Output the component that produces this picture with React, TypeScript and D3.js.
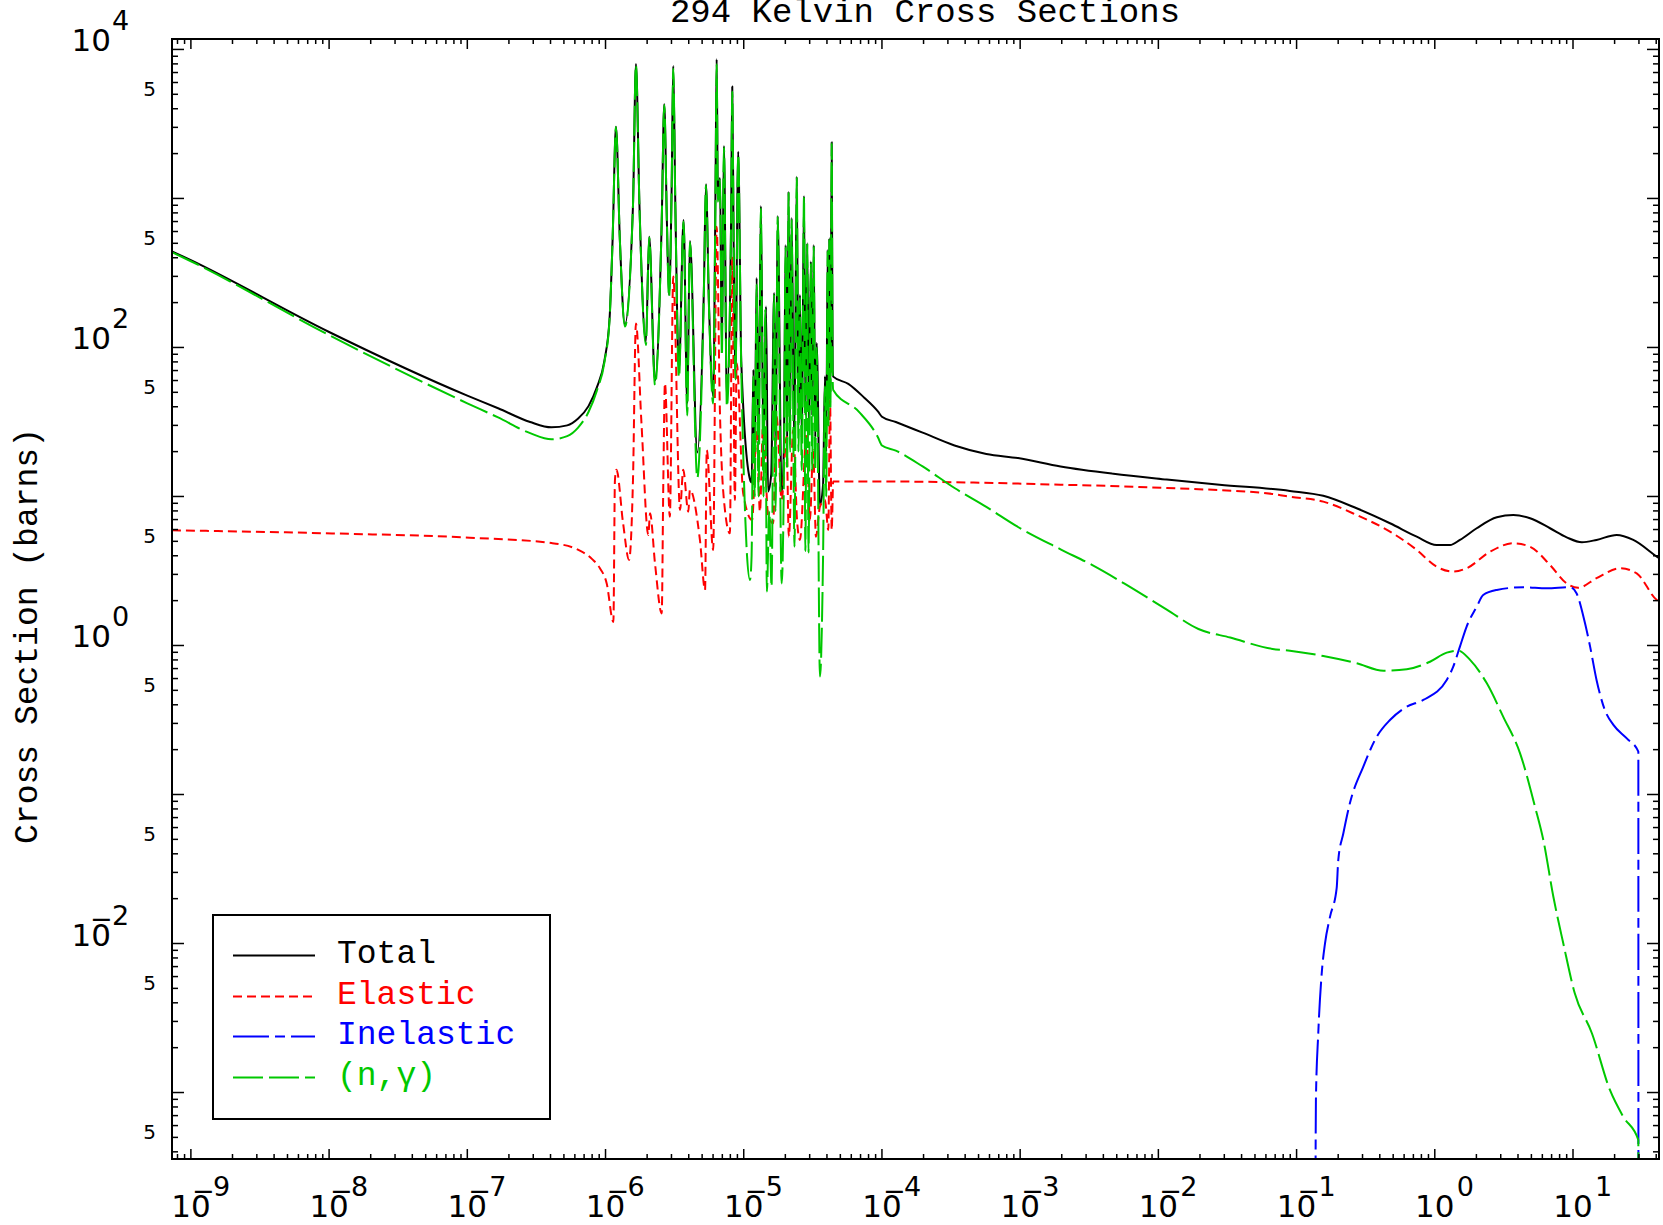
import { useEffect, useRef } from "react";
import * as d3 from "d3";

type Pt = [number, number];

const chartTitle = "294 Kelvin Cross Sections";
const yAxisTitle = "Cross Section (barns)";

// axis limits (energy, cross section)
const energyRange: Pt = [7.3e-10, 41.9];
const sigmaRange: Pt = [3.58e-4, 1.175e4];

const xDecadeLabels = [-9, -8, -7, -6, -5, -4, -3, -2, -1, 0, 1];
const yDecadeLabels = [4, 2, 0, -2];
const yFiveLabels = [5e3, 5e2, 5e1, 5, 5e-1, 5e-2, 5e-3, 5e-4];

const legendNames = ["Total", "Elastic", "Inelastic", "(n,\u03b3)"];

const totalXS: Pt[] = [
  [7.29e-10, 442], [1.0e-9, 385], [1.0e-8, 127], [1.0e-7, 47.5], [1.67e-7, 39.1],
  [2.85e-7, 31.6], [4.06e-7, 29.1], [5.28e-7, 30.0], [6.31e-7, 33.2], [7.53e-7, 40.4],
  [8.67e-7, 54.2], [9.82e-7, 81.7], [1.07e-6, 157], [1.125e-6, 527], [1.19e-6, 3030],
  [1.27e-6, 527], [1.38e-6, 143], [1.58e-6, 900], [1.66e-6, 8000], [1.76e-6, 900],
  [1.96e-6, 109], [2.07e-6, 554], [2.28e-6, 60], [2.55e-6, 700], [2.66e-6, 4290],
  [2.78e-6, 700], [2.88e-6, 225], [3.01e-6, 1200], [3.09e-6, 7750], [3.2e-6, 900],
  [3.4e-6, 71], [3.67e-6, 717], [3.9e-6, 42], [4.08e-6, 519], [4.61e-6, 19.7],
  [5.15e-6, 250], [5.33e-6, 1245], [5.6e-6, 200], [6.01e-6, 47], [6.25e-6, 1200],
  [6.37e-6, 8600], [6.5e-6, 1000], [6.73e-6, 1370], [6.95e-6, 96], [7.19e-6, 2250],
  [7.55e-6, 46.5], [8.1e-6, 700], [8.26e-6, 5630], [8.45e-6, 500], [8.71e-6, 70],
  [9.12e-6, 2060], [9.6e-6, 80], [1.11e-5, 13], [1.14e-5, 12.4], [1.175e-5, 71],
  [1.2e-5, 18], [1.24e-5, 293], [1.28e-5, 22], [1.33e-5, 891], [1.39e-5, 20],
  [1.45e-5, 188], [1.5e-5, 10.8], [1.58e-5, 14], [1.66e-5, 232], [1.7e-5, 18],
  [1.76e-5, 763], [1.88e-5, 10.5], [1.95e-5, 20], [2.01e-5, 487], [2.06e-5, 25],
  [2.11e-5, 1110], [2.16e-5, 30], [2.22e-5, 740], [2.32e-5, 22], [2.42e-5, 1400],
  [2.49e-5, 30], [2.55e-5, 225], [2.63e-5, 25], [2.73e-5, 1040], [2.8e-5, 35],
  [2.88e-5, 500], [2.97e-5, 28], [3.06e-5, 377], [3.13e-5, 35], [3.21e-5, 487],
  [3.29e-5, 25], [3.37e-5, 107], [3.56e-5, 8.8], [3.75e-5, 12], [3.87e-5, 64],
  [3.95e-5, 20], [4.05e-5, 451], [4.1e-5, 40], [4.16e-5, 541], [4.24e-5, 50],
  [4.33e-5, 2380], [4.4e-5, 70], [4.44e-5, 63.7], [5.71e-5, 57.0], [7.45e-5, 46.0],
  [9.35e-5, 37.2], [1.0e-4, 34.3], [1.26e-4, 31.6], [1.97e-4, 26.8], [3.35e-4, 22.0],
  [5.69e-4, 19.3], [9.65e-4, 18.1], [1.96e-3, 15.9], [4.73e-3, 14.2], [1.15e-2, 13.0],
  [2.77e-2, 12.0], [8.95e-2, 10.9], [0.156, 10.1], [0.272, 8.33], [0.474, 6.61],
  [0.74, 5.37], [1.03, 4.72], [1.29, 4.72], [1.52, 5.11], [2.01, 6.12],
  [2.81, 7.25], [3.7, 7.51], [4.89, 7.14], [6.82, 6.12], [9.0, 5.32],
  [11.6, 4.93], [14.8, 5.11], [20.7, 5.52], [27.3, 5.11], [40.4, 3.95], [43, 3.8],
];

const elasticXS: Pt[] = [
  [7.29e-10, 5.93], [1.05e-8, 5.65], [1.04e-7, 5.29], [4.06e-7, 4.87], [6.31e-7, 4.4],
  [8.0e-7, 3.8], [9.11e-7, 3.3], [1.02e-6, 2.61], [1.14e-6, 1.44], [1.17e-6, 12.9],
  [1.2e-6, 15.1], [1.34e-6, 6.61], [1.48e-6, 3.75], [1.58e-6, 12.9], [1.66e-6, 145],
  [1.82e-6, 31.0], [2.04e-6, 5.52], [2.1e-6, 7.71], [2.28e-6, 3.56], [2.55e-6, 1.64],
  [2.62e-6, 12.9], [2.69e-6, 57.5], [2.92e-6, 7.32], [3.09e-6, 299], [3.46e-6, 8.12],
  [3.65e-6, 15.1], [3.97e-6, 7.91], [4.08e-6, 11.1], [4.82e-6, 5.11], [5.25e-6, 2.36],
  [5.4e-6, 20.5], [6.01e-6, 4.38], [6.37e-6, 647], [6.73e-6, 36.2], [7.31e-6, 8.12],
  [7.94e-6, 5.66], [8.26e-6, 407], [8.63e-6, 9.48], [8.89e-6, 78.3], [9.91e-6, 10.5],
  [1.15e-5, 6.95], [1.24e-5, 27.9], [1.31e-5, 7.9], [1.38e-5, 31.0], [1.5e-5, 7.52],
  [1.63e-5, 6.61], [1.73e-5, 34.3], [1.88e-5, 9.48], [2.04e-5, 25.2], [2.12e-5, 5.37],
  [2.28e-5, 27.9], [2.43e-5, 6.95], [2.55e-5, 5.11], [2.85e-5, 26.6], [3.01e-5, 6.95],
  [3.18e-5, 20.5], [3.33e-5, 5.37], [3.56e-5, 8.55], [3.87e-5, 9.48], [4.09e-5, 5.96],
  [4.21e-5, 44.4], [4.33e-5, 5.96], [4.44e-5, 12.6], [1.0e-4, 12.6], [1.96e-3, 12.0],
  [1.15e-2, 11.4], [6.7e-2, 10.4], [8.95e-2, 9.97], [0.156, 9.23], [0.272, 7.51],
  [0.474, 5.81], [0.74, 4.38], [1.03, 3.38], [1.36, 3.13], [1.7, 3.3],
  [2.51, 4.26], [3.7, 4.85], [4.89, 4.6], [6.82, 3.47], [9.0, 2.61],
  [10.9, 2.44], [14.8, 2.83], [21.9, 3.3], [28.9, 3.05], [40.4, 2.02], [43, 1.95],
];

const inelasticXS: Pt[] = [
  [0.1355, 1e-6], [0.138, 8.9e-4], [0.1435, 2.49e-3], [0.152, 6.31e-3], [0.1605, 0.01],
  [0.1745, 0.0151], [0.195, 0.0235], [0.2003, 0.0363], [0.218, 0.0549], [0.243, 0.0873],
  [0.304, 0.154], [0.38, 0.244], [0.474, 0.316], [0.626, 0.388], [0.826, 0.431],
  [1.22, 0.587], [1.36, 0.721], [1.52, 0.982], [1.7, 1.34], [2.01, 1.82],
  [2.24, 2.18], [2.81, 2.36], [4.37, 2.46], [6.45, 2.42], [9.51, 2.46],
  [10.6, 2.24], [11.9, 1.56], [13.3, 0.982], [14.8, 0.587], [17.0, 0.369],
  [19.6, 0.293], [24.5, 0.238], [29.7, 0.194], [29.75, 1e-6],
];

const captureXS: Pt[] = [
  [7.29e-10, 436], [1.0e-9, 379], [1.0e-8, 121], [1.0e-7, 42.2], [1.67e-7, 33.9],
  [2.85e-7, 26.6], [4.06e-7, 24.2], [5.28e-7, 25.4], [6.31e-7, 28.9], [7.53e-7, 36.9],
  [8.67e-7, 51.5], [9.82e-7, 79.6], [1.07e-6, 155], [1.125e-6, 525], [1.19e-6, 3015],
  [1.27e-6, 520], [1.38e-6, 138], [1.58e-6, 890], [1.66e-6, 7850], [1.76e-6, 880],
  [1.96e-6, 104], [2.07e-6, 547], [2.28e-6, 56], [2.55e-6, 690], [2.66e-6, 4230],
  [2.78e-6, 690], [2.88e-6, 218], [3.01e-6, 1180], [3.09e-6, 7450], [3.2e-6, 880],
  [3.4e-6, 63], [3.67e-6, 700], [3.9e-6, 35], [4.08e-6, 508], [4.61e-6, 13.3],
  [5.15e-6, 240], [5.33e-6, 1225], [5.6e-6, 190], [6.01e-6, 42], [6.25e-6, 1150],
  [6.37e-6, 7950], [6.5e-6, 950], [6.73e-6, 1330], [6.95e-6, 88], [7.19e-6, 2200],
  [7.55e-6, 40], [8.1e-6, 680], [8.26e-6, 5220], [8.45e-6, 480], [8.71e-6, 61],
  [9.12e-6, 1980], [9.6e-6, 70], [1.11e-5, 2.75], [1.14e-5, 4], [1.175e-5, 64],
  [1.2e-5, 10], [1.24e-5, 265], [1.28e-5, 10], [1.33e-5, 860], [1.39e-5, 10],
  [1.43e-5, 180], [1.47e-5, 2.3], [1.53e-5, 8], [1.59e-5, 2.48], [1.66e-5, 225],
  [1.7e-5, 8], [1.76e-5, 750], [1.88e-5, 2.61], [1.95e-5, 12], [2.01e-5, 470],
  [2.06e-5, 15], [2.11e-5, 1090], [2.16e-5, 20], [2.22e-5, 720], [2.33e-5, 4.6],
  [2.42e-5, 1380], [2.49e-5, 20], [2.55e-5, 215], [2.63e-5, 15], [2.73e-5, 1020],
  [2.79e-5, 4.3], [2.88e-5, 490], [2.94e-5, 4.2], [3.06e-5, 365], [3.13e-5, 15],
  [3.21e-5, 475], [3.29e-5, 15], [3.37e-5, 100], [3.56e-5, 0.62], [3.75e-5, 4],
  [3.87e-5, 55], [3.95e-5, 10], [4.05e-5, 440], [4.1e-5, 30], [4.16e-5, 530],
  [4.24e-5, 40], [4.33e-5, 2350], [4.4e-5, 60], [4.44e-5, 51.9], [6.82e-5, 37],
  [9.35e-5, 25], [1.0e-4, 22], [1.26e-4, 20.3], [1.97e-4, 15.9], [3.35e-4, 11.4],
  [5.69e-4, 8.51], [9.65e-4, 6.24], [1.96e-3, 4.42], [3.33e-3, 3.46], [5.65e-3, 2.61],
  [1.15e-2, 1.74], [1.95e-2, 1.29], [3.31e-2, 1.13], [6.7e-2, 0.948], [8.95e-2, 0.923],
  [0.156, 0.85], [0.272, 0.76], [0.426, 0.677], [0.627, 0.692], [0.923, 0.778],
  [1.22, 0.895], [1.48, 0.923], [1.8, 0.8], [2.38, 0.557], [3.13, 0.332],
  [4.14, 0.189], [5.31, 0.0828], [6.1, 0.0495], [7.21, 0.0206], [8.51, 0.01],
  [10.3, 4.63e-3], [13.7, 2.5e-3], [18.5, 1.04e-3], [23.1, 6.88e-4], [29.7, 4.8e-4],
  [29.75, 1e-6],
];

export default function App() {
  const svgRef = useRef<SVGSVGElement>(null);
  const width = 1663;
  const height = 1225;

  useEffect(() => {
    if (!svgRef.current) return;
    const svg = d3.select(svgRef.current);
    svg.selectAll("*").remove();

    const left = 172, right = 1659, top = 39, bottom = 1159;
    const x = d3.scaleLog().domain(energyRange).range([left, right]);
    const y = d3.scaleLog().domain(sigmaRange).range([bottom, top]);

    const tickFont = "'DejaVu Sans', sans-serif";
    const monoFont = "'Liberation Mono', monospace";

    svg.append("rect").attr("width", width).attr("height", height).attr("fill", "#fff");

    svg.append("defs").append("clipPath").attr("id", "plotArea")
      .append("rect").attr("x", left).attr("y", top)
      .attr("width", right - left).attr("height", bottom - top);

    const line = d3.line<Pt>()
      .x(d => x(d[0]))
      .y(d => y(d[1]))
      .curve(d3.curveMonotoneX);

    const curves = [
      { data: totalXS, color: "#000000", dash: "none" },
      { data: elasticXS, color: "#ff0000", dash: "9,5" },
      { data: inelasticXS, color: "#0000ff", dash: "36,6,10,6" },
      { data: captureXS, color: "#00c800", dash: "30,6" },
    ];

    const g = svg.append("g").attr("clip-path", "url(#plotArea)");
    curves.forEach(c => {
      g.append("path")
        .attr("d", line(c.data))
        .attr("fill", "none")
        .attr("stroke", c.color)
        .attr("stroke-width", 2)
        .attr("stroke-dasharray", c.dash)
        .attr("stroke-linejoin", "round");
    });

    // frame + ticks on all four sides
    svg.append("rect").attr("x", left).attr("y", top)
      .attr("width", right - left).attr("height", bottom - top)
      .attr("fill", "none").attr("stroke", "#000").attr("stroke-width", 2);

    const isMajor = (v: number) => Math.abs(Math.log10(v) - Math.round(Math.log10(v))) < 1e-6;
    const tk = svg.append("g").attr("stroke", "#000").attr("stroke-width", 1.5);

    x.ticks(100).forEach(t => {
      const px = x(t);
      if (px < left || px > right) return;
      const len = isMajor(t) ? 10 : 5;
      tk.append("line").attr("x1", px).attr("x2", px).attr("y1", bottom).attr("y2", bottom - len);
      tk.append("line").attr("x1", px).attr("x2", px).attr("y1", top).attr("y2", top + len);
    });
    y.ticks(100).forEach(t => {
      const py = y(t);
      if (py < top || py > bottom) return;
      const len = isMajor(t) ? 12 : 6;
      tk.append("line").attr("y1", py).attr("y2", py).attr("x1", left).attr("x2", left + len);
      tk.append("line").attr("y1", py).attr("y2", py).attr("x1", right).attr("x2", right - len);
    });

    // x labels: 10 with superscript exponent (minus sits over the 0, as in the original)
    xDecadeLabels.forEach(e => {
      const px = x(Math.pow(10, e));
      const lab = svg.append("g").attr("font-family", tickFont).attr("fill", "#000");
      lab.append("text").attr("x", px).attr("y", 1217).attr("text-anchor", "middle")
        .attr("font-size", 31).text("10");
      if (e < 0) {
        lab.append("text").attr("x", px + 1).attr("y", 1200).attr("font-size", 27).text("\u2212");
      }
      lab.append("text").attr("x", px + 22).attr("y", 1196).attr("font-size", 27)
        .text(String(Math.abs(e)));
    });

    // y labels
    yDecadeLabels.forEach(e => {
      const py = y(Math.pow(10, e));
      const lab = svg.append("g").attr("font-family", tickFont).attr("fill", "#000");
      lab.append("text").attr("x", 111).attr("y", py + 2).attr("text-anchor", "end")
        .attr("font-size", 31).text("10");
      if (e < 0) {
        lab.append("text").attr("x", 90).attr("y", py - 16).attr("font-size", 27).text("\u2212");
      }
      lab.append("text").attr("x", 112).attr("y", py - 19).attr("font-size", 27)
        .text(String(Math.abs(e)));
    });
    yFiveLabels.forEach(v => {
      svg.append("text").attr("x", 156).attr("y", y(v) + 2).attr("text-anchor", "end")
        .attr("font-family", tickFont).attr("font-size", 20).text("5");
    });

    // titles
    svg.append("text").attr("x", 925).attr("y", 22).attr("text-anchor", "middle")
      .attr("font-family", monoFont).attr("font-size", 34).text(chartTitle);
    svg.append("text")
      .attr("transform", `translate(37,${(top + bottom) / 2 + 37}) rotate(-90)`)
      .attr("text-anchor", "middle")
      .attr("font-family", monoFont).attr("font-size", 33).text(yAxisTitle);

    // legend
    svg.append("rect").attr("x", 213).attr("y", 915).attr("width", 337).attr("height", 204)
      .attr("fill", "#fff").attr("stroke", "#000").attr("stroke-width", 2);
    const rowBase = [963, 1004, 1044, 1085];
    curves.forEach((c, i) => {
      svg.append("line").attr("x1", 233).attr("x2", 315)
        .attr("y1", rowBase[i] - 7.5).attr("y2", rowBase[i] - 7.5)
        .attr("stroke", c.color).attr("stroke-width", 2).attr("stroke-dasharray", c.dash);
      svg.append("text").attr("x", 337).attr("y", rowBase[i])
        .attr("font-family", monoFont).attr("font-size", 33).attr("fill", c.color)
        .text(legendNames[i]);
    });
  }, []);

  return (
    <svg
      ref={svgRef}
      width={width}
      height={height}
      style={{ position: "absolute", left: 0, top: 0 }}
    />
  );
}
